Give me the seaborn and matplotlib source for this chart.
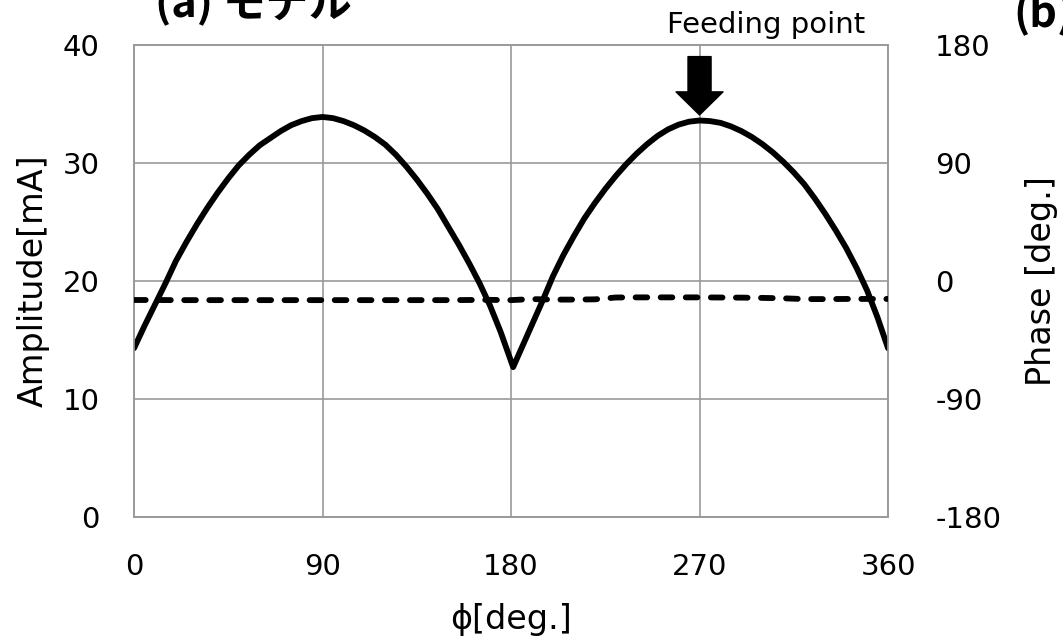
import numpy as np
import pandas as pd
import matplotlib
matplotlib.use("Agg")
import matplotlib.pyplot as plt
import seaborn as sns

# Current amplitude along the loop (angle in degrees)
amp_phi = [0, 5, 10, 15, 20, 25, 30, 35, 40, 45, 50, 55, 60, 65, 70, 75, 80, 85,
           90, 95, 100, 105, 110, 115, 120, 125, 130, 135, 140, 145, 150, 155,
           160, 165, 170, 175, 181, 185, 190, 195, 200, 205, 210, 215, 220, 225,
           230, 235, 240, 245, 250, 255, 260, 265, 270, 275, 280, 285, 290, 295,
           300, 305, 310, 315, 320, 325, 330, 335, 340, 345, 350, 355, 360]
amplitude_ma = [14.3, 16.2, 18.0, 19.8, 21.7, 23.3, 24.8, 26.2, 27.5, 28.7, 29.8,
                30.7, 31.5, 32.1, 32.7, 33.2, 33.55, 33.8, 33.9, 33.8, 33.55, 33.2,
                32.75, 32.2, 31.55, 30.7, 29.7, 28.6, 27.4, 26.1, 24.6, 23.1, 21.5,
                19.8, 17.9, 15.7, 12.7, 14.3, 16.3, 18.3, 20.4, 22.2, 23.8, 25.3,
                26.6, 27.8, 28.9, 29.9, 30.8, 31.6, 32.3, 32.85, 33.25, 33.5, 33.6,
                33.55, 33.4, 33.1, 32.7, 32.2, 31.6, 30.9, 30.1, 29.2, 28.2, 27.0,
                25.7, 24.3, 22.8, 21.1, 19.2, 16.9, 14.3]

# Current phase along the loop
phase_phi = [0, 10, 20, 30, 40, 50, 60, 70, 80, 90, 100, 110, 120, 130, 140, 150,
             160, 170, 180, 190, 200, 210, 220, 230, 240, 250, 260, 270, 280, 290,
             300, 310, 320, 330, 340, 350, 360]
phase_deg = [-14.5, -14.5, -14.6, -14.6, -14.6, -14.6, -14.6, -14.6, -14.6, -14.6,
             -14.6, -14.6, -14.6, -14.6, -14.6, -14.6, -14.5, -14.4, -14.6, -13.8,
             -14.2, -14.2, -14.0, -12.6, -12.5, -12.5, -12.5, -12.5, -12.6, -12.7,
             -12.9, -13.2, -13.8, -13.8, -13.7, -13.7, -13.7]

x_ticks = [0, 90, 180, 270, 360]
amp_ticks = [0, 10, 20, 30, 40]
phase_ticks = [-180, -90, 0, 90, 180]
feed_deg = 270

df_amp = pd.DataFrame({"phi": amp_phi, "amp": amplitude_ma})
df_phase = pd.DataFrame({"phi": phase_phi, "phase": phase_deg})

sns.set_theme(style="white")
plt.rcParams["font.family"] = ["DejaVu Sans"]
plt.rcParams["axes.unicode_minus"] = False
plt.rcParams["axes.labelcolor"] = "black"
plt.rcParams["text.color"] = "black"

fig = plt.figure(figsize=(10.63, 6.43), dpi=100)
ax = fig.add_axes([0.1261, 0.19596, 0.7093, 0.7341])
ax2 = ax.twinx()

grid_col = "#9a9a9a"

sns.lineplot(data=df_amp, x="phi", y="amp", ax=ax, color="black", lw=4.2,
             solid_joinstyle="round", solid_capstyle="round", zorder=3)
sns.lineplot(data=df_phase, x="phi", y="phase", ax=ax2, color="black", lw=4.2,
             dashes=False, zorder=3)
ax2.lines[0].set_dashes([2.0, 2.3])
ax2.lines[0].set_dash_capstyle("round")

ax.set_xlim(0, 360)
ax.set_ylim(0, 40)
ax2.set_ylim(-180, 180)
ax.set_xticks(x_ticks)
ax.set_yticks(amp_ticks)
ax2.set_yticks(phase_ticks)

ax.grid(True, color=grid_col, lw=1.2)
ax2.grid(False)
for a in (ax, ax2):
    for s in a.spines.values():
        s.set_color(grid_col)
        s.set_linewidth(1.2)

ax.tick_params(axis="x", length=0, pad=26, labelsize=21, colors="black")
ax.tick_params(axis="y", length=0, pad=25, labelsize=21, colors="black")
ax2.tick_params(axis="y", length=0, pad=34, labelsize=21, colors="black")

ax.set_xlabel("ϕ[deg.]", fontsize=24, va="center", color="black")
ax.xaxis.set_label_coords(0.5, -0.218)
ax.set_ylabel("Amplitude[mA]", fontsize=24, va="center", color="black")
ax.yaxis.set_label_coords(-0.134, 0.5)
ax2.set_ylabel("Phase [deg.]", fontsize=24, va="center", rotation=90, color="black")
ax2.yaxis.set_label_coords(1.204, 0.5)

# Feeding point marker
feed_amp = amplitude_ma[amp_phi.index(feed_deg)]
ax.annotate("", xy=(feed_deg, feed_amp), xycoords="data",
            xytext=(0, 46), textcoords="offset points",
            arrowprops=dict(arrowstyle="simple,head_length=1.66,head_width=3.38,tail_width=1.66",
                            mutation_scale=10, color="black", shrinkA=0, shrinkB=4),
            zorder=5, annotation_clip=False)
ax.text(0.838, 1.042, "Feeding point", transform=ax.transAxes, ha="center",
        va="center", fontsize=21, color="black")

# Panel captions at the top edge
fig.text(155 / 1063, 1 - 17 / 643, "(a) モデル", fontsize=31, fontweight="bold",
         va="baseline", ha="left", family=["Noto Sans CJK JP", "DejaVu Sans"])
fig.text(1013 / 1063, 1 - 27 / 643, "(b)", fontsize=31, fontweight="bold",
         va="baseline", ha="left", family=["Noto Sans CJK JP", "DejaVu Sans"])

fig.savefig("out.png", dpi=100)
